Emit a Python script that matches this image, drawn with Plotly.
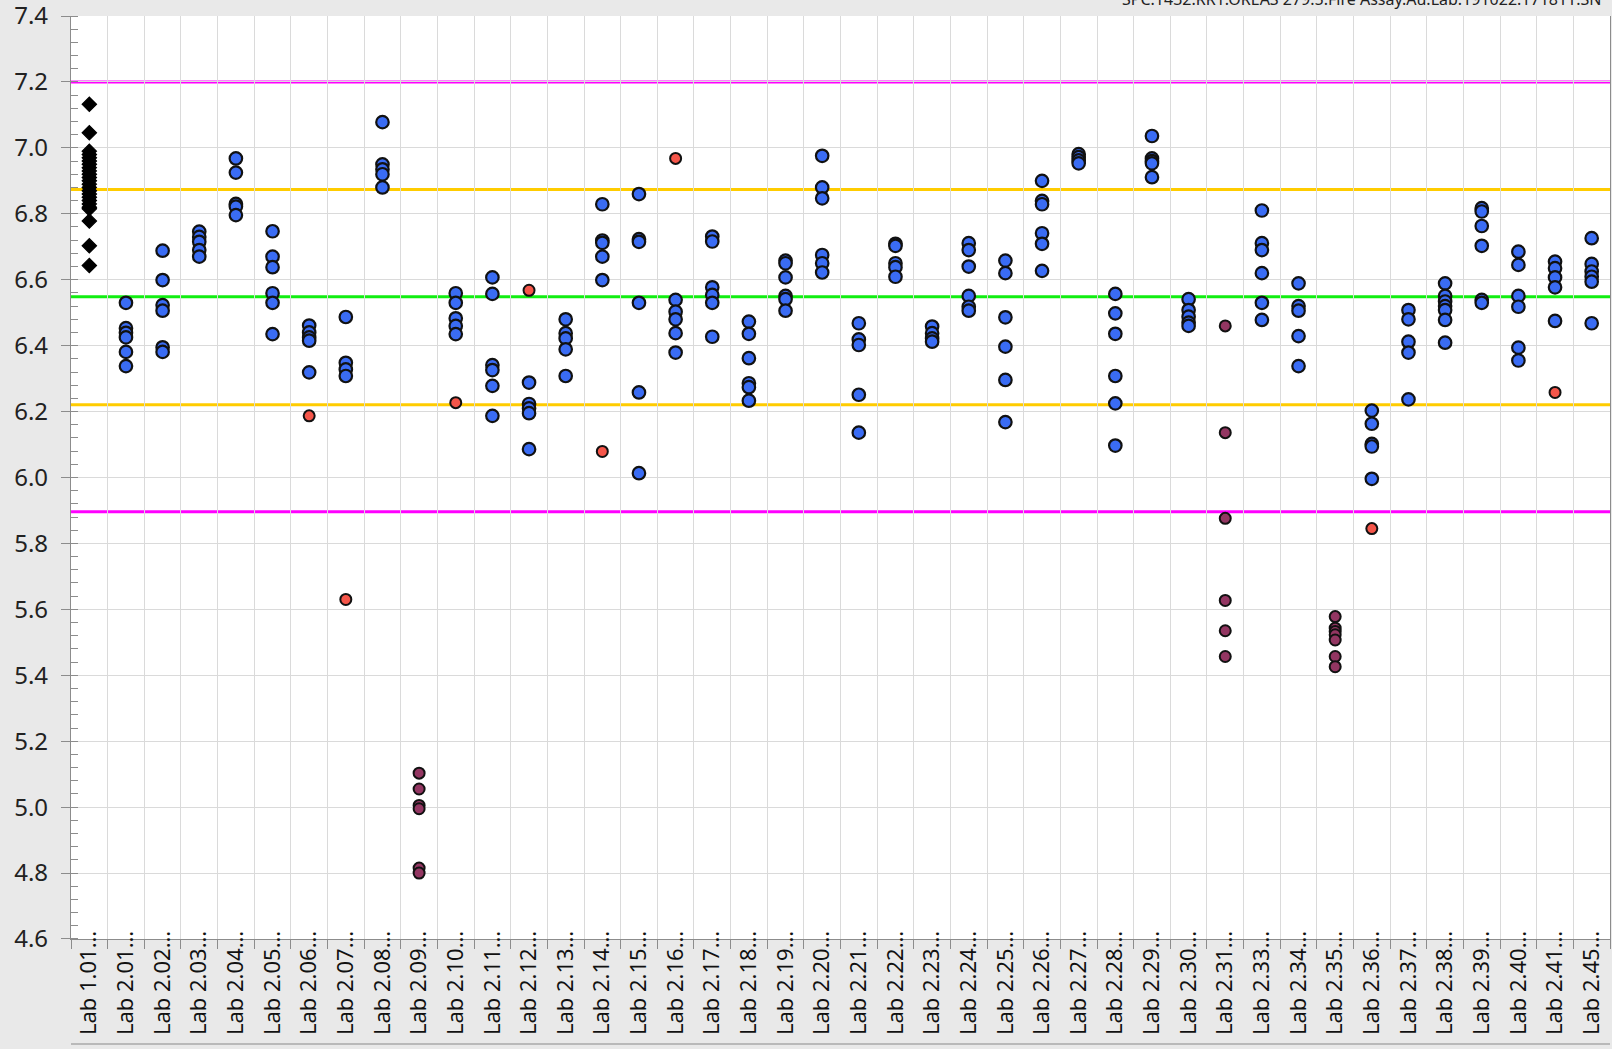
import plotly.graph_objects as go

# ---------------- data ----------------
labs = ["Lab 1.01", "Lab 2.01", "Lab 2.02", "Lab 2.03", "Lab 2.04", "Lab 2.05", "Lab 2.06",
        "Lab 2.07", "Lab 2.08", "Lab 2.09", "Lab 2.10", "Lab 2.11", "Lab 2.12", "Lab 2.13",
        "Lab 2.14", "Lab 2.15", "Lab 2.16", "Lab 2.17", "Lab 2.18", "Lab 2.19", "Lab 2.20",
        "Lab 2.21", "Lab 2.22", "Lab 2.23", "Lab 2.24", "Lab 2.25", "Lab 2.26", "Lab 2.27",
        "Lab 2.28", "Lab 2.29", "Lab 2.30", "Lab 2.31", "Lab 2.33", "Lab 2.34", "Lab 2.35",
        "Lab 2.36", "Lab 2.37", "Lab 2.38", "Lab 2.39", "Lab 2.40", "Lab 2.41", "Lab 2.45"]
tick_labels = [lab + "\u2026" for lab in labs]

# Lab 1.01 reference results (black diamonds)
ref_lab = "Lab 1.01"
ref_values = [7.132, 7.046, 6.990, 6.980, 6.970, 6.960, 6.950, 6.940, 6.930, 6.920, 6.910,
              6.900, 6.890, 6.880, 6.870, 6.860, 6.850, 6.840, 6.830, 6.820, 6.815,
              6.778, 6.703, 6.643]

# accepted results (blue), one list per lab in the order of `labs`
blue_values = [
    [],                                              # Lab 1.01
    [6.530, 6.453, 6.439, 6.425, 6.381, 6.338],      # 2.01
    [6.688, 6.599, 6.523, 6.506, 6.395, 6.381],      # 2.02
    [6.746, 6.730, 6.715, 6.690, 6.670],             # 2.03
    [6.968, 6.925, 6.830, 6.822, 6.796],             # 2.04
    [6.747, 6.670, 6.638, 6.559, 6.530, 6.435],      # 2.05
    [6.461, 6.440, 6.425, 6.415, 6.319],             # 2.06
    [6.487, 6.348, 6.328, 6.308],                    # 2.07
    [7.078, 6.950, 6.935, 6.920, 6.880],             # 2.08
    [],                                              # 2.09
    [6.559, 6.530, 6.483, 6.460, 6.435],             # 2.10
    [6.607, 6.557, 6.341, 6.326, 6.278, 6.187],      # 2.11
    [6.288, 6.223, 6.210, 6.195, 6.086],             # 2.12
    [6.480, 6.438, 6.422, 6.389, 6.308],             # 2.13
    [6.829, 6.719, 6.712, 6.670, 6.599],             # 2.14
    [6.860, 6.723, 6.715, 6.530, 6.258, 6.013],      # 2.15
    [6.539, 6.503, 6.480, 6.438, 6.379],             # 2.16
    [6.731, 6.716, 6.577, 6.554, 6.530, 6.427],      # 2.17
    [6.473, 6.436, 6.362, 6.286, 6.274, 6.233],      # 2.18
    [6.658, 6.650, 6.607, 6.551, 6.541, 6.506],      # 2.19
    [6.976, 6.880, 6.847, 6.675, 6.650, 6.622],      # 2.20
    [6.468, 6.419, 6.402, 6.251, 6.136],             # 2.21
    [6.709, 6.703, 6.650, 6.638, 6.609],             # 2.22
    [6.458, 6.438, 6.422, 6.412],                    # 2.23
    [6.711, 6.690, 6.640, 6.551, 6.518, 6.506],      # 2.24
    [6.658, 6.620, 6.486, 6.397, 6.296, 6.168],      # 2.25
    [6.900, 6.839, 6.829, 6.741, 6.709, 6.627],      # 2.26
    [6.981, 6.972, 6.962, 6.953],                    # 2.27
    [6.557, 6.498, 6.436, 6.308, 6.225, 6.097],      # 2.28
    [7.036, 6.968, 6.960, 6.953, 6.911],             # 2.29
    [6.541, 6.508, 6.488, 6.470, 6.460],             # 2.30
    [],                                              # 2.31
    [6.810, 6.711, 6.690, 6.620, 6.530, 6.478],      # 2.33
    [6.589, 6.520, 6.506, 6.429, 6.338],             # 2.34
    [],                                              # 2.35
    [6.203, 6.163, 6.102, 6.094, 5.996],             # 2.36
    [6.508, 6.480, 6.412, 6.379, 6.237],             # 2.37
    [6.589, 6.551, 6.534, 6.520, 6.508, 6.478, 6.409],  # 2.38
    [6.817, 6.807, 6.763, 6.703, 6.539, 6.530],      # 2.39
    [6.685, 6.645, 6.551, 6.518, 6.394, 6.355],      # 2.40
    [6.655, 6.635, 6.607, 6.577, 6.475],             # 2.41
    [6.726, 6.648, 6.625, 6.609, 6.594, 6.468],      # 2.45
]

# outlier results (red)
red_labs = ["Lab 2.06", "Lab 2.07", "Lab 2.10", "Lab 2.12", "Lab 2.14", "Lab 2.16", "Lab 2.36", "Lab 2.41"]
red_values = [6.187, 5.630, 6.227, 6.568, 6.079, 6.968, 5.845, 6.258]

# excluded labs (maroon)
maroon_labs = ["Lab 2.09"] * 6 + ["Lab 2.31"] * 6 + ["Lab 2.35"] * 7
maroon_values = [5.103, 5.055, 5.005, 4.995, 4.815, 4.800,
                 6.460, 6.136, 5.876, 5.627, 5.535, 5.457,
                 5.578, 5.543, 5.533, 5.523, 5.507, 5.457, 5.426]

# control limits
center_value = 6.548
limit_2sd = [6.874, 6.221]
limit_4sd = [7.200, 5.896]

y_ticks = [4.6, 4.8, 5.0, 5.2, 5.4, 5.6, 5.8, 6.0, 6.2, 6.4, 6.6, 6.8, 7.0, 7.2, 7.4]
title_text = "SPC.1432.RR1.OREAS 279.5.Fire Assay.Au.Lab.191022.171811.SN"

# ---------------- figure ----------------
FONT = "Noto Sans"
blue_x, blue_y = [], []
for lab, vals in zip(labs, blue_values):
    for v in vals:
        blue_x.append(lab)
        blue_y.append(v)

fig = go.Figure()

fig.add_trace(go.Scatter(
    x=[ref_lab] * len(ref_values), y=ref_values, mode="markers",
    marker=dict(symbol="diamond", size=11, color="black", line=dict(color="black", width=1.2)),
    showlegend=False))
fig.add_trace(go.Scatter(
    x=blue_x, y=blue_y, mode="markers",
    marker=dict(symbol="circle", size=12.5, color="#3a6cf4", line=dict(color="#111111", width=2.2)),
    showlegend=False))
fig.add_trace(go.Scatter(
    x=red_labs, y=red_values, mode="markers",
    marker=dict(symbol="circle", size=11, color="#f5564a", line=dict(color="#111111", width=2)),
    showlegend=False))
fig.add_trace(go.Scatter(
    x=maroon_labs, y=maroon_values, mode="markers",
    marker=dict(symbol="circle", size=11, color="#933662", line=dict(color="#111111", width=2)),
    showlegend=False))

def hline(yv, color):
    fig.add_shape(type="line", xref="paper", x0=0, x1=1, yref="y", y0=yv, y1=yv,
                  line=dict(color=color, width=3), layer="below")

for v in limit_4sd:
    hline(v, "#ff00ff")
for v in limit_2sd:
    hline(v, "#ffcc00")
hline(center_value, "#11ee11")

# bottom separator line under the tick labels
fig.add_shape(type="line", xref="paper", x0=0, x1=1, yref="paper", y0=-0.1138, y1=-0.1138,
              line=dict(color="#a8a8a8", width=1.5))

fig.add_annotation(text=title_text, xref="paper", yref="paper", x=0.6814, y=1,
                   xanchor="left", yanchor="bottom", yshift=4, showarrow=False,
                   font=dict(family=FONT, size=16, color="#222222"))

fig.update_layout(
    width=1612, height=1049,
    margin=dict(l=71, r=2, t=16, b=110),
    paper_bgcolor="#e9e9e9", plot_bgcolor="white",
    font=dict(family=FONT, color="#222222"),
    showlegend=False,
)

fig.update_xaxes(
    type="category", categoryorder="array", categoryarray=labs,
    tickmode="array", tickvals=labs, ticktext=tick_labels,
    range=[-0.5, len(labs) - 0.5],
    tickson="boundaries", ticks="outside", ticklen=9, tickcolor="#8c8c8c", tickwidth=1,
    showgrid=True, gridcolor="#dadada", gridwidth=1.3,
    showline=True, linecolor="#8c8c8c", linewidth=1.3,
    tickangle=-90, tickfont=dict(family=FONT, size=22, color="#111111"),
    ticklabelstandoff=-18, ticklabeloverflow="allow", automargin=False, zeroline=False,
)
fig.update_yaxes(
    range=[4.5999, 7.4001], tickmode="array", tickvals=y_ticks, tickformat=".1f",
    ticks="outside", ticklen=9, tickcolor="#8c8c8c", tickwidth=1,
    minor=dict(ticks="inside", dtick=0.04, tick0=4.6, ticklen=7, tickcolor="#8c8c8c", showgrid=False),
    showgrid=True, gridcolor="#dadada", gridwidth=1.3,
    showline=True, linecolor="#8c8c8c", linewidth=1.3, mirror=True,
    tickfont=dict(family=FONT, size=24, color="#222222"),
    ticklabelstandoff=8, ticklabeloverflow="allow", automargin=False, zeroline=False,
)

fig.write_html("out.html", config={"displayModeBar": False},
               post_script="document.body.style.margin='0';")
